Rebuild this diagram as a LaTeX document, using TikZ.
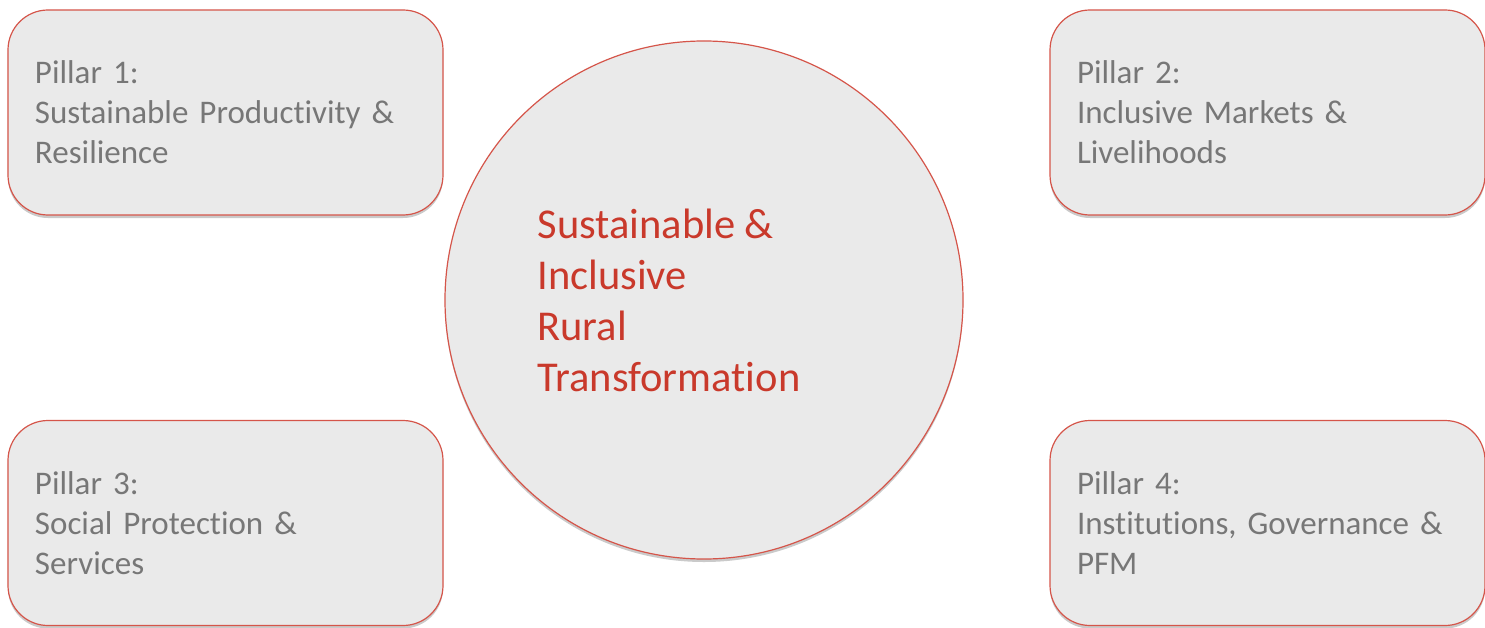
\documentclass[tikz,border=0pt]{standalone}
\usepackage{fontspec}
\setmainfont{Carlito}[Ligatures={NoCommon}]
\usetikzlibrary{shadows}
\definecolor{pfill}{HTML}{EAEAEA}
\definecolor{pborder}{HTML}{D5554A}
\definecolor{ptext}{HTML}{777777}
\definecolor{ttext}{HTML}{C9392B}
\tikzset{
  pillar/.style={draw=pborder, line width=1.2bp, fill=pfill, rounded corners=40bp,
    minimum width=435bp, minimum height=205bp, text width=381bp, inner xsep=27bp,
    align=left, text=ptext, font=\fontsize{33bp}{40bp}\selectfont,
    drop shadow={opacity=0.35, shadow xshift=0bp, shadow yshift=-3bp, fill=black!60}},
  hub/.style={circle, draw=pborder, line width=1.2bp, fill=pfill, minimum size=518bp,
    drop shadow={opacity=0.35, shadow xshift=0bp, shadow yshift=-3bp, fill=black!60}},
  hubtext/.style={align=left, text=ttext, font=\fontsize{42.5bp}{51bp}\selectfont, inner sep=0pt}
}
\begin{document}
\begin{tikzpicture}[x=1bp,y=-1bp]
\useasboundingbox (0,0) rectangle (1485,628);
\node[pillar] (p1) at (225.5,112.5) {Pillar 1:\\Sustainable Productivity \&\\Resilience};
\node[pillar] (p2) at (1267.5,112.5) {Pillar 2:\\Inclusive Markets \&\\Livelihoods};
\node[pillar] (p3) at (225.5,523) {Pillar 3:\\Social Protection \&\\Services};
\node[pillar] (p4) at (1267.5,523) {Pillar 4:\\Institutions, Governance \&\\PFM};
\node[hub] (c) at (704,300) {};
\node[hubtext] (t) at (669,300) {Sustainable \&\\Inclusive\\Rural\\Transformation};
\end{tikzpicture}
\end{document}
